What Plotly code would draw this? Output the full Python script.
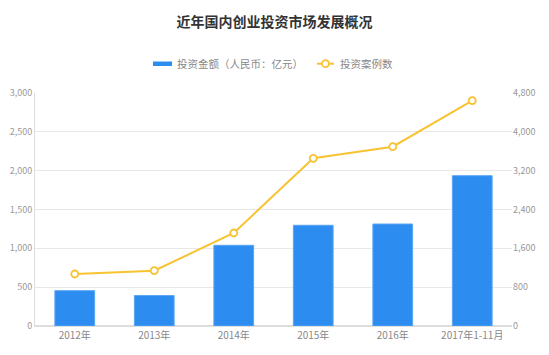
import plotly.graph_objects as go

categories = ["2012年", "2013年", "2014年", "2015年", "2016年", "2017年1-11月"]
amount = [455, 392, 1039, 1297, 1313, 1935]
cases = [1071, 1139, 1916, 3455, 3694, 4641]
left_ticks = [0, 500, 1000, 1500, 2000, 2500, 3000]
right_ticks = [0, 800, 1600, 2400, 3200, 4000, 4800]
legend_names = ["投资金额（人民币：亿元）", "投资案例数"]

FONT = "Noto Sans CJK SC"
BLUE = "#2d8cf0"
YELLOW = "#f7c331"

W, H = 549, 355
L, R, T, B = 35, 37, 93, 29
PW, PH = W - L - R, H - T - B


def px(x):
    return (x - L) / PW


def py(y):
    return (H - B - y) / PH


fig = go.Figure()
fig.add_trace(go.Bar(
    x=categories, y=amount, name=legend_names[0],
    marker=dict(color=BLUE, line=dict(color="#5aa6f3", width=1)),
    width=0.5, yaxis="y", showlegend=False,
))
fig.add_trace(go.Scatter(
    x=categories, y=cases, name=legend_names[1], mode="lines+markers",
    line=dict(color=YELLOW, width=2),
    marker=dict(symbol="circle", size=7, color="white", line=dict(color=YELLOW, width=1.8)),
    yaxis="y2", showlegend=False,
))

# manual legend
shapes = [
    dict(type="rect", xref="paper", yref="paper", x0=px(153), x1=px(172), y0=py(66), y1=py(61.5),
         fillcolor=BLUE, line=dict(width=0)),
    dict(type="line", xref="paper", yref="paper", x0=px(317), x1=px(334), y0=py(63.7), y1=py(63.7),
         line=dict(color=YELLOW, width=2)),
    dict(type="circle", xref="paper", yref="paper", x0=px(322), x1=px(329), y0=py(60.2), y1=py(67.2),
         fillcolor="white", line=dict(color=YELLOW, width=1.8)),
]
annotations = [
    dict(text=legend_names[0], xref="paper", yref="paper", x=px(175), y=py(63.7),
         xanchor="left", yanchor="middle", showarrow=False,
         font=dict(family=FONT, size=10.5, color="#888888")),
    dict(text=legend_names[1], xref="paper", yref="paper", x=px(338), y=py(63.7),
         xanchor="left", yanchor="middle", showarrow=False,
         font=dict(family=FONT, size=10.5, color="#888888")),
]

fig.update_layout(
    width=W, height=H,
    margin=dict(l=L, r=R, t=T, b=B, autoexpand=False),
    paper_bgcolor="white", plot_bgcolor="white",
    font=dict(family=FONT, color="#999999", size=10),
    title=dict(text="<b>近年国内创业投资市场发展概况</b>", x=0.5, xanchor="center",
               y=1 - 22 / H, yanchor="middle", yref="container",
               font=dict(family=FONT, size=14, color="#333333")),
    showlegend=False,
    shapes=shapes,
    annotations=annotations,
    xaxis=dict(showline=True, linecolor="#dddddd", linewidth=1, ticks="",
               tickfont=dict(size=10, color="#888888"), showgrid=False, automargin=False),
    yaxis=dict(range=[0, 3000], tickvals=left_ticks, tickformat=",",
               showgrid=True, gridcolor="#e8e8e8", showline=True, linecolor="#dddddd",
               zeroline=True, zerolinecolor="#dddddd", automargin=False,
               tickfont=dict(size=9, color="#999999"), ticks=""),
    yaxis2=dict(range=[0, 4800], tickvals=right_ticks, tickformat=",", overlaying="y",
                side="right", showgrid=False, showline=False, zeroline=False, automargin=False,
                tickfont=dict(size=9, color="#999999"), ticks=""),
)

fig.write_html(
    "out.html",
    config={"displayModeBar": False, "staticPlot": True},
    post_script="document.body.style.margin='0';document.body.style.overflow='hidden';",
)
